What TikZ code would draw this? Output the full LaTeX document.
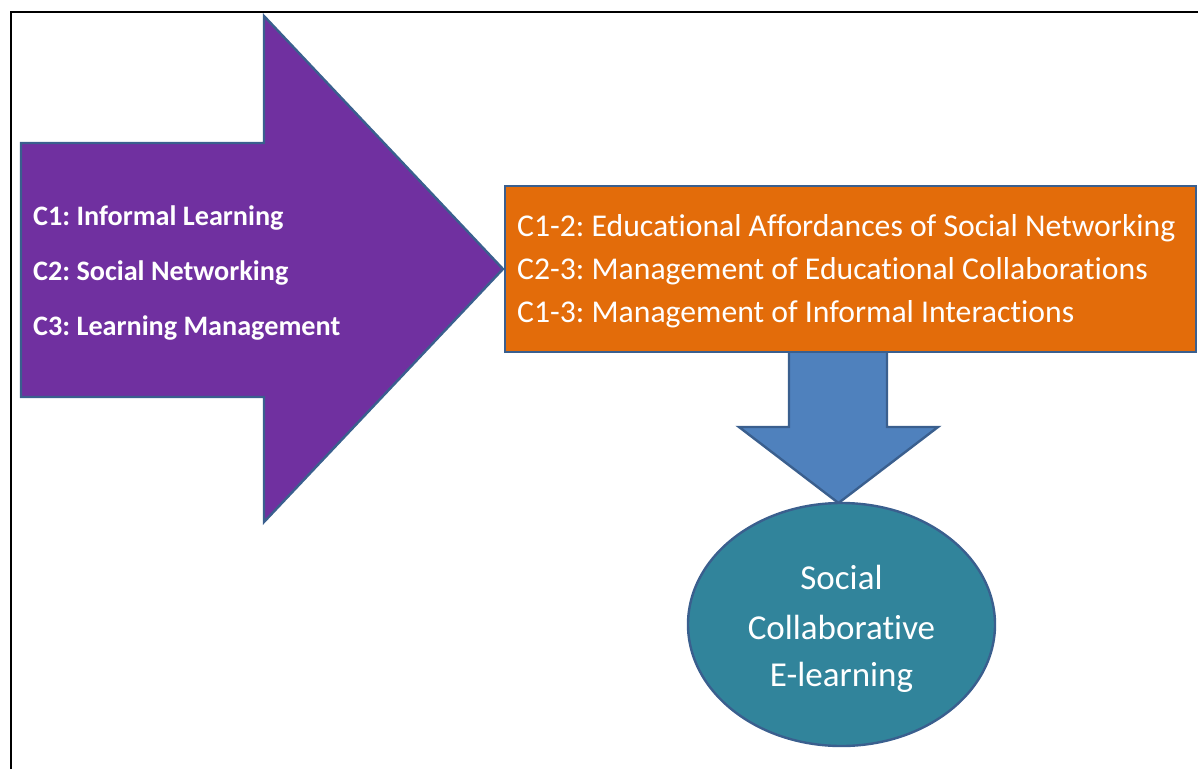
\documentclass[tikz,border=0pt]{standalone}
\usepackage{fontspec}
\setmainfont{Carlito}[Ligatures={NoCommon}]
\usetikzlibrary{shapes.geometric}
\definecolor{cpurple}{HTML}{7030A0}
\definecolor{corange}{HTML}{E36C0A}
\definecolor{cblue}{HTML}{4F81BD}
\definecolor{cteal}{HTML}{31849B}
\definecolor{cedge}{HTML}{3A5F8E}
\tikzset{
  shapeline/.style={draw=cedge, line width=2.4pt, line join=miter},
  purpletxt/.style={anchor=base west, inner sep=0pt, text=white, font=\fontsize{28.2}{32}\selectfont\bfseries},
  orangetxt/.style={anchor=base west, inner sep=0pt, text=white, font=\fontsize{31.7}{36}\selectfont},
  ellipsetxt/.style={anchor=base, inner sep=0pt, text=white, font=\fontsize{35}{40}\selectfont},
}
\frenchspacing
\begin{document}
\begin{tikzpicture}[x=1pt,y=-1pt]
\useasboundingbox (0,0) rectangle (1198,769);
% frame
\draw[line width=2pt, black] (10.5,769) -- (10.5,12) -- (1198,12);
% purple arrow
\draw[shapeline, fill=cpurple] (21,143) -- (264,143) -- (264,16) -- (503,269) -- (264,522) -- (264,397) -- (21,397) -- cycle;
\node[purpletxt] (p1) at (33,225) {C1: Informal Learning};
\node[purpletxt] (p2) at (33,280) {C2: Social Networking};
\node[purpletxt] (p3) at (33,335) {C3: Learning Management};
% blue arrow
\draw[shapeline, fill=cblue] (789,345) -- (887,345) -- (887,427) -- (938,427) -- (838.5,503) -- (739,427) -- (789,427) -- cycle;
% orange box
\node[shapeline, fill=corange, rectangle, minimum width=691pt, minimum height=166pt, anchor=north west, inner sep=0pt] (box) at (504,184.5) {};
\node[orangetxt] (o1) at (517,236) {C1-2: Educational Affordances of Social Networking};
\node[orangetxt] (o2) at (517,279) {C2-3: Management of Educational Collaborations};
\node[orangetxt] (o3) at (517,322) {C1-3: Management of Informal Interactions};
% ellipse
\node[shapeline, fill=cteal, ellipse, minimum width=307pt, minimum height=243pt, inner sep=0pt] (goal) at (841.5,624.5) {};
\node[ellipsetxt] (e1) at (841.5,589) {Social};
\node[ellipsetxt] (e2) at (841.5,639) {Collaborative};
\node[ellipsetxt] (e3) at (841.5,686) {E-learning};
\end{tikzpicture}
\end{document}
